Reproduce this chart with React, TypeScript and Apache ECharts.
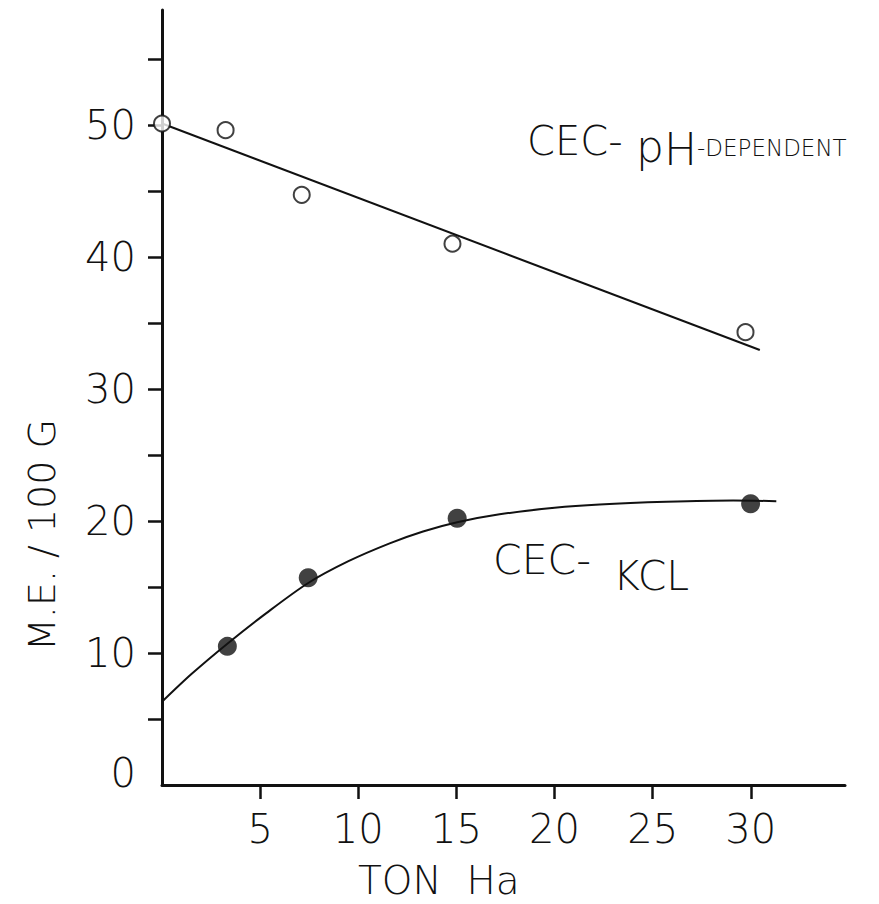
import React, { useEffect, useRef } from "react";
import * as echarts from "echarts";

// Axis ticks and labels
const xTickValues = [5, 10, 15, 20, 25, 30];
const yTickValues = [5, 10, 15, 20, 25, 30, 35, 40, 45, 50, 55];
const yLabelValues = [0, 10, 20, 30, 40, 50];

// CEC - pH-dependent: measured points (open circles) and fitted line
const phPoints = [
  [0, 50.1],
  [3.24, 49.6],
  [7.12, 44.7],
  [14.8, 41.0],
  [29.73, 34.3],
];
const phLine = [
  [0, 50.1],
  [30.46, 32.95],
];

const kclPoints = [
  [3.33, 10.5],
  [7.45, 15.7],
  [15.04, 20.2],
  [29.99, 21.3],
];
const kclCurve = [
  [0, 6.3],
  [1.5, 8.4],
  [3.33, 10.7],
  [5.3, 13.0],
  [7.45, 15.3],
  [9.5, 16.95],
  [11.6, 18.3],
  [13.3, 19.2],
  [15.04, 19.9],
  [17.2, 20.5],
  [20.0, 21.0],
  [22.3, 21.25],
  [25.7, 21.45],
  [29.1, 21.55],
  [31.3, 21.5],
];

const FONT = "'DejaVu Sans', sans-serif";
const INK = "#111";

export default function App() {
  const ref = useRef<HTMLDivElement>(null);
  useEffect(() => {
    if (!ref.current) return;
    const chart = echarts.init(ref.current, null, { renderer: "svg" });
    const txt = (
      text: string,
      x: number,
      y: number,
      size: number,
      extra: any = {}
    ) => ({
      type: "text",
      x,
      y,
      z: 10,
      style: {
        text,
        fill: INK,
        font: `200 ${size}px ${FONT}`,
        textVerticalAlign: "middle",
        ...extra,
      },
    });
    chart.setOption({
      animation: false,
      backgroundColor: "#fff",
      grid: {
        left: 162,
        top: 10,
        width: 683,
        height: 775,
        outerBoundsMode: "none",
        containLabel: false,
      },
      xAxis: {
        type: "value",
        min: 0,
        max: 34.8,
        axisLine: { show: true, onZero: false, lineStyle: { color: INK, width: 3 } },
        axisTick: {
          show: true,
          customValues: xTickValues,
          length: 14,
          lineStyle: { color: INK, width: 2.5 },
        },
        axisLabel: {
          customValues: xTickValues,
          margin: 24,
          fontSize: 40,
          fontFamily: FONT,
          fontWeight: 200,
          color: INK,
        },
        splitLine: { show: false },
      },
      yAxis: {
        type: "value",
        min: 0,
        max: 58.7,
        axisLine: { show: true, onZero: false, lineStyle: { color: INK, width: 3 } },
        axisTick: {
          show: true,
          customValues: yTickValues,
          length: 14,
          lineStyle: { color: INK, width: 2.5 },
        },
        axisLabel: {
          customValues: yLabelValues,
          margin: 26,
          fontSize: 40,
          fontFamily: FONT,
          fontWeight: 200,
          color: INK,
          formatter: (v: number) => (v === 0 ? "{z|0}" : String(v)),
          rich: {
            z: {
              fontSize: 40,
              fontFamily: FONT,
              color: INK,
              padding: [0, 0, 24, 0],
            },
          },
        },
        splitLine: { show: false },
      },
      series: [
        {
          type: "line",
          data: phLine,
          showSymbol: false,
          lineStyle: { color: INK, width: 2 },
          z: 2,
        },
        {
          type: "line",
          data: kclCurve,
          smooth: 0.3,
          showSymbol: false,
          lineStyle: { color: INK, width: 2 },
          z: 2,
        },
        {
          type: "scatter",
          data: phPoints,
          symbol: "circle",
          symbolSize: 16,
          itemStyle: { color: "#fff", borderColor: INK, borderWidth: 2 },
          clip: false,
          z: 5,
        },
        {
          type: "scatter",
          data: kclPoints,
          symbol: "circle",
          symbolSize: 19,
          itemStyle: { color: INK },
          clip: false,
          z: 5,
        },
      ],
      graphic: [
        txt("CEC-", 527, 141, 40),
        txt("p", 636, 146, 44),
        txt("H", 664, 149, 44),
        txt("-DEPENDENT", 697, 148, 23, { letterSpacing: 2 } as any),
        txt("CEC-", 493, 560, 41),
        txt("KCL", 613, 576, 41),
        txt("TON  Ha", 358, 880, 39),
        {
          type: "text",
          x: 42,
          y: 535,
          rotation: Math.PI / 2,
          z: 10,
          style: {
            text: "M.E. / 100 G",
            fill: INK,
            font: `200 38px ${FONT}`,
            textAlign: "center",
            textVerticalAlign: "middle",
          },
        },
      ],
    });
    return () => chart.dispose();
  }, []);
  return (
    <div
      ref={ref}
      style={{ position: "fixed", left: 0, top: 0, width: 879, height: 904 }}
    />
  );
}
